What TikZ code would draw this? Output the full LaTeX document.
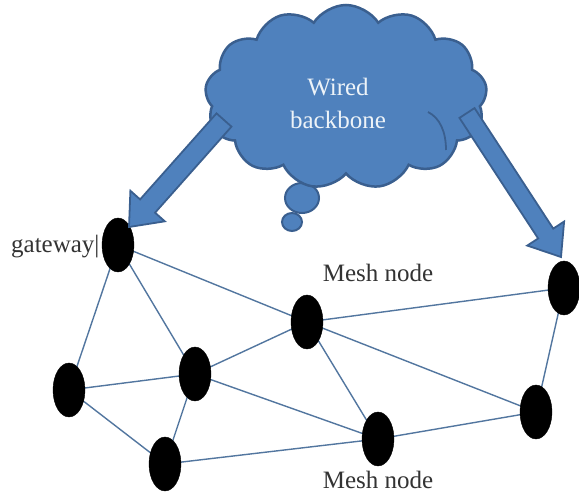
\documentclass[tikz,border=0pt]{standalone}
\usepackage{fontspec}
\setmainfont{Liberation Serif}
\usetikzlibrary{shapes.symbols,shapes.geometric,calc}
\pgfdeclarelayer{back}
\pgfdeclarelayer{links}
\pgfsetlayers{back,links,main}
\definecolor{cloudfill}{HTML}{4F81BD}
\definecolor{cloudedge}{HTML}{3A5F8F}
\definecolor{edgeblue}{HTML}{52769F}
\definecolor{labelgrey}{HTML}{333333}
\tikzset{
  meshnode/.style={ellipse, fill=black, draw=black, minimum width=32pt, minimum height=54pt, inner sep=0pt},
  link/.style={draw=edgeblue, line width=1.4pt},
  blockarrow/.style={fill=cloudfill, draw=cloudedge, line width=1.8pt, line join=miter},
  bubble/.style={ellipse, fill=cloudfill, draw=cloudedge, line width=2pt, inner sep=0pt},
  lbl/.style={font=\fontsize{25}{27}\selectfont, text=labelgrey, inner sep=0pt},
  cloudtxt/.style={font=\fontsize{25}{33}\selectfont, text=white!90!cloudfill, align=center, inner sep=0pt}
}
\begin{document}
\begin{tikzpicture}[x=1pt,y=-1pt]
\begin{pgfonlayer}{back}
\fill[white] (0,0) rectangle (579,494);
\end{pgfonlayer}
\useasboundingbox (0,0) rectangle (579,494);
% cloud
\node[bubble, minimum width=20pt, minimum height=18pt] (bub2) at (292,222) {};
\node[bubble, minimum width=34pt, minimum height=30pt] (bub1) at (302,198) {};
\node[cloud, cloud puffs=13, cloud puff arc=115, aspect=1.6, fill=cloudfill, draw=cloudedge, line width=2.5pt,
      minimum width=282pt, minimum height=184pt] (cloud) at (346,97) {};
\node[cloudtxt] (ctext) at (338,103) {Wired\\backbone};
% inner arc of the cloud
\draw[cloudedge, line width=1.8pt] (428,112) .. controls (440,118) and (446,132) .. (446,150);
% nodes
\node[meshnode] (gw) at (118,245) {};
\node[meshnode] (n2) at (69,390) {};
\node[meshnode] (n3) at (195,374) {};
\node[meshnode] (n4) at (165,464) {};
\node[meshnode] (n5) at (307,322) {};
\node[meshnode] (n6) at (564,288) {};
\node[meshnode] (n7) at (378,439) {};
\node[meshnode] (n8) at (536,412) {};
% links
\begin{pgfonlayer}{links}
\path[link] (gw.center) -- (n2.center) (gw.center) -- (n3.center) (gw.center) -- (n5.center)
  (n2.center) -- (n3.center) (n2.center) -- (n4.center)
  (n3.center) -- (n5.center) (n3.center) -- (n4.center) (n3.center) -- (n7.center)
  (n4.center) -- (n7.center)
  (n5.center) -- (n6.center) (n5.center) -- (n7.center) (n5.center) -- (n8.center)
  (n6.center) -- (n8.center) (n7.center) -- (n8.center);
\end{pgfonlayer}
% block arrows
\coordinate (la0) at (224,120);
\coordinate (la1) at (129,227);
\coordinate (laB) at ($(la1)!28pt!(la0)$);
\draw[blockarrow] ($(la0)!10pt!90:(la1)$) -- ($(laB)!10pt!90:(la1)$) -- ($(laB)!23pt!90:(la1)$) -- (la1)
  -- ($(laB)!23pt!-90:(la1)$) -- ($(laB)!10pt!-90:(la1)$) -- ($(la0)!10pt!-90:(la1)$) -- cycle;
\coordinate (ra0) at (467,113);
\coordinate (ra1) at (561,257);
\coordinate (raB) at ($(ra1)!28pt!(ra0)$);
\draw[blockarrow] ($(ra0)!9pt!90:(ra1)$) -- ($(raB)!9pt!90:(ra1)$) -- ($(raB)!22pt!90:(ra1)$) -- (ra1)
  -- ($(raB)!22pt!-90:(ra1)$) -- ($(raB)!9pt!-90:(ra1)$) -- ($(ra0)!9pt!-90:(ra1)$) -- cycle;
% labels
\node[lbl, anchor=base west] (gwlabel) at (11,253) {gateway|};
\node[lbl, anchor=base] (mesh1) at (378,282) {Mesh node};
\node[lbl, anchor=base] (mesh2) at (378,489) {Mesh node};
\end{tikzpicture}
\end{document}
